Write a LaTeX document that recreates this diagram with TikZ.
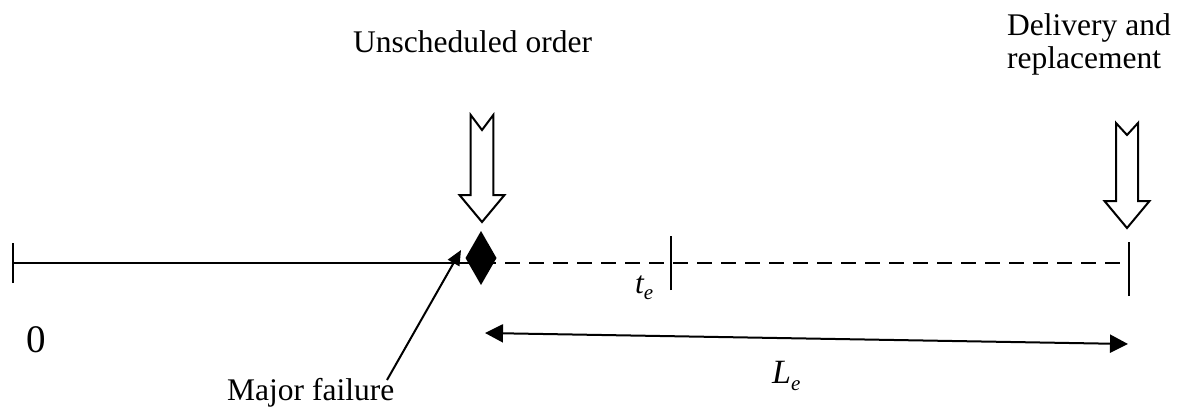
\documentclass[tikz,border=0pt]{standalone}
\usepackage{fontspec}
\setmainfont{Liberation Serif}
\usetikzlibrary{arrows.meta}
\newcommand\lowsub[1]{\raisebox{-0.22em}{\fontsize{21}{21}\selectfont\itshape #1}}
\begin{document}
\begin{tikzpicture}[x=1pt,y=-1pt,
  lbl/.style={inner sep=0pt,font=\fontsize{31.5}{33}\selectfont},
  axis/.style={line width=2pt},
  dashaxis/.style={line width=2pt,dash pattern=on 15pt off 9pt},
  blockarrow/.style={line width=2pt,fill=white,line join=miter},
  pointer/.style={line width=2pt,-{Triangle[length=15pt,width=13pt]}},
  span/.style={line width=2pt,{Triangle[length=18pt,width=18pt]}-{Triangle[length=18pt,width=18pt]}}]
\useasboundingbox (0,0) rectangle (1179,408);
% coordinates on the time line
\coordinate (start) at (13,263);
\coordinate (fail) at (481,263);
\coordinate (te) at (671,263);
\coordinate (deliv) at (1129,263);
% time line
\draw[axis] (start) -- (fail);
\draw[dashaxis] (fail) -- (deliv);
\draw[axis] ([yshift=-20pt]start) -- ([yshift=20pt]start);
\draw[axis] ([yshift=-27pt]te) -- ([yshift=27pt]te);
\draw[axis] ([yshift=-33pt]deliv) -- ([yshift=21pt]deliv);
% failure diamond
\node[coordinate] (dia) at (481,258) {};
\fill (dia) ++(0,-27) -- ++(15.5,27) -- ++(-15.5,27) -- ++(-15.5,-27) -- cycle;
% block arrows
\draw[blockarrow] (470.7,115) -- (482,130) -- (493.3,115) -- (493.3,195) -- (504.5,195)
  -- (482,222) -- (459.5,195) -- (470.7,195) -- cycle;
\draw[blockarrow] (1116,123) -- (1127,135) -- (1138,123) -- (1138,201) -- (1149.5,201)
  -- (1127,228) -- (1104.5,201) -- (1116,201) -- cycle;
% labels
\node[lbl,anchor=base west] (unsch) at (353,52) {Unscheduled order};
\node[lbl,anchor=base west] (del1) at (1007,35) {Delivery and};
\node[lbl,anchor=base west] (del2) at (1007,68) {replacement};
\node[lbl,anchor=base,font=\fontsize{39}{40}\selectfont] (zero) at (36,352) {0};
\node[lbl,anchor=base west] (major) at (227,400) {Major failure};
\node[lbl,anchor=base west] (telbl) at (635,293) {\itshape t\lowsub{e}};
\node[lbl,anchor=base west,font=\fontsize{34}{34}\selectfont] (lelbl) at (772,383) {\itshape L\lowsub{e}};
% pointers
\coordinate (mf) at (387,380);
\coordinate (mftip) at (461,250);
\draw[pointer] (mf) -- (mftip);
\coordinate (la) at (485,333);
\coordinate (lb) at (1128,344);
\draw[span] (la) -- (lb);
\end{tikzpicture}
\end{document}
